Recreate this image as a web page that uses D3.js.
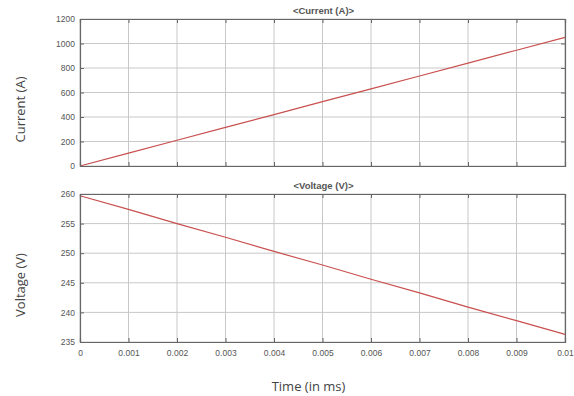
<!DOCTYPE html>
<html><head><meta charset="utf-8">
<script src="https://cdn.jsdelivr.net/npm/d3@7"></script>
<style>body{margin:0;background:#fff}svg{display:block}text{font-family:"Liberation Sans",Arial,sans-serif}</style>
</head><body><svg id="c" width="574" height="396"></svg>
<script>
const time = [0,0.001,0.002,0.003,0.004,0.005,0.006,0.007,0.008,0.009,0.01];
const current = [0,105,210,315,420,525,630,735,840,945,1050];
const voltage = [259.7,257.4,255.0,252.7,250.3,248.0,245.6,243.3,240.9,238.6,236.3];
const xTicks = [0,0.001,0.002,0.003,0.004,0.005,0.006,0.007,0.008,0.009,0.01];
const xTickLabels = ["0","0.001","0.002","0.003","0.004","0.005","0.006","0.007","0.008","0.009","0.01"];
const currentTicks = [0,200,400,600,800,1000,1200];
const voltageTicks = [235,240,245,250,255,260];

const svg = d3.select("#c");
const L = 80, R = 565;
const x = d3.scaleLinear().domain([0,0.01]).range([L,R]);

function panel(top, bottom, domain, ticks, values, title, ylabel, showX){
  const y = d3.scaleLinear().domain(domain).range([bottom, top]);
  const g = svg.append("g");
  g.selectAll(".gx").data(xTicks).join("line")
    .attr("x1",d=>x(d)).attr("x2",d=>x(d)).attr("y1",top).attr("y2",bottom)
    .attr("stroke","#c8c8c8").attr("stroke-width",1);
  g.selectAll(".gy").data(ticks).join("line")
    .attr("x1",L).attr("x2",R).attr("y1",d=>y(d)).attr("y2",d=>y(d))
    .attr("stroke","#c8c8c8").attr("stroke-width",1);
  g.append("path").datum(d3.range(time.length))
    .attr("d", d3.line().x(i=>x(time[i])).y(i=>y(values[i])))
    .attr("fill","none").attr("stroke","#c8504f").attr("stroke-width",1.2);
  const yAx = d3.axisLeft(y).tickValues(ticks).tickSize(-4).tickPadding(5).tickFormat(d3.format("d"));
  const ya = g.append("g").attr("transform",`translate(${L},0)`).call(yAx);
  const yr = g.append("g").attr("transform",`translate(${R},0)`).call(d3.axisRight(y).tickValues(ticks).tickSize(-4).tickFormat(""));
  const xb = g.append("g").attr("transform",`translate(0,${bottom})`)
    .call(d3.axisBottom(x).tickValues(xTicks).tickSize(-4).tickPadding(8).tickFormat((d,i)=>showX?xTickLabels[i]:""));
  const xt = g.append("g").attr("transform",`translate(0,${top})`)
    .call(d3.axisTop(x).tickValues(xTicks).tickSize(-4).tickFormat(""));
  [ya,yr,xb,xt].forEach(a=>{
    a.select(".domain").attr("stroke","#666").attr("stroke-width",1.2);
    a.selectAll(".tick line").attr("stroke","#666");
    a.selectAll("text").attr("fill","#555").attr("font-size",8.5);
  });
  g.append("text").attr("x",(L+R)/2+1).attr("y",top-5).attr("text-anchor","middle")
    .attr("font-size",9.5).attr("font-weight","bold").attr("fill","#555").text(title);
  g.append("text").attr("transform",`translate(25,${(top+bottom)/2+17}) rotate(-90)`)
    .attr("text-anchor","middle").attr("font-size",13).attr("fill","#444")
    .style("font-family","'Open Sans',sans-serif").text(ylabel);
}
panel(19,166,[0,1200],currentTicks,current,"<Current (A)>","Current (A)",false);
panel(194,342,[235,260],voltageTicks,voltage,"<Voltage (V)>","Voltage (V)",true);
svg.append("text").attr("x",(L+R)/2-14).attr("y",391).attr("text-anchor","middle")
  .attr("font-size",13).attr("fill","#444").style("font-family","'Open Sans',sans-serif").text("Time (in ms)");
</script></body></html>
